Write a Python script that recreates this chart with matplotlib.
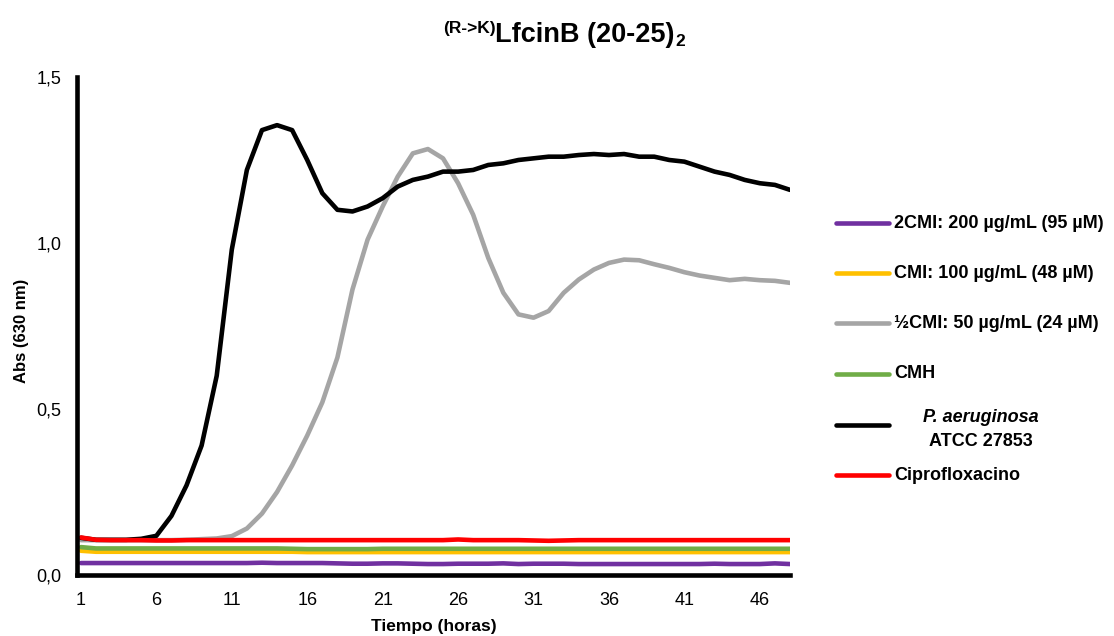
import matplotlib

matplotlib.use("Agg")

import matplotlib.pyplot as plt
from matplotlib.lines import Line2D

W, H = 1114, 636

hours = list(range(1, 49))
x_tick_hours = hours[::5]
y_ticks = [0.0, 0.5, 1.0, 1.5]
y_tick_labels = ["0,0", "0,5", "1,0", "1,5"]

mic2 = [0.036, 0.036, 0.036, 0.036, 0.036, 0.036, 0.036, 0.036, 0.036, 0.036,
        0.036, 0.036, 0.037, 0.036, 0.036, 0.036, 0.036, 0.035, 0.034, 0.034,
        0.035, 0.035, 0.034, 0.033, 0.033, 0.034, 0.034, 0.034, 0.035, 0.033,
        0.034, 0.034, 0.034, 0.033, 0.033, 0.033, 0.033, 0.033, 0.033, 0.033,
        0.033, 0.033, 0.034, 0.033, 0.033, 0.033, 0.035, 0.033]
mic1 = [0.073, 0.070, 0.070, 0.070, 0.070, 0.070, 0.070, 0.070, 0.070, 0.070,
        0.070, 0.070, 0.070, 0.070, 0.070, 0.069, 0.069, 0.069, 0.069, 0.069,
        0.069, 0.069, 0.069, 0.069, 0.069, 0.069, 0.069, 0.069, 0.069, 0.069,
        0.069, 0.069, 0.069, 0.069, 0.069, 0.069, 0.069, 0.069, 0.069, 0.069,
        0.069, 0.069, 0.069, 0.069, 0.069, 0.069, 0.069, 0.069]
mic_half = [0.105, 0.105, 0.105, 0.105, 0.105, 0.105, 0.105, 0.106, 0.108, 0.110,
            0.117, 0.140, 0.185, 0.250, 0.330, 0.420, 0.520, 0.655, 0.860, 1.010,
            1.110, 1.200, 1.270, 1.283, 1.255, 1.180, 1.085, 0.955, 0.850, 0.785,
            0.775, 0.795, 0.850, 0.890, 0.920, 0.940, 0.950, 0.948, 0.936, 0.925,
            0.912, 0.902, 0.895, 0.888, 0.892, 0.888, 0.886, 0.880]
cmh = [0.084, 0.080, 0.080, 0.080, 0.080, 0.080, 0.080, 0.080, 0.080, 0.080,
       0.080, 0.080, 0.080, 0.080, 0.079, 0.078, 0.078, 0.078, 0.078, 0.078,
       0.079, 0.079, 0.079, 0.079, 0.079, 0.079, 0.079, 0.079, 0.079, 0.079,
       0.079, 0.079, 0.079, 0.079, 0.079, 0.079, 0.079, 0.079, 0.079, 0.079,
       0.079, 0.079, 0.079, 0.079, 0.079, 0.079, 0.079, 0.079]
pa = [0.112, 0.106, 0.106, 0.106, 0.109, 0.118, 0.178, 0.270, 0.390, 0.600,
      0.980, 1.220, 1.340, 1.355, 1.340, 1.250, 1.150, 1.100, 1.095, 1.110,
      1.135, 1.170, 1.190, 1.200, 1.215, 1.215, 1.220, 1.235, 1.240, 1.250,
      1.255, 1.260, 1.260, 1.265, 1.268, 1.265, 1.268, 1.260, 1.260, 1.250,
      1.245, 1.230, 1.215, 1.205, 1.190, 1.180, 1.175, 1.160]
cipro = [0.113, 0.106, 0.105, 0.105, 0.105, 0.104, 0.104, 0.105, 0.105, 0.105,
         0.105, 0.105, 0.105, 0.105, 0.105, 0.105, 0.105, 0.105, 0.105, 0.105,
         0.105, 0.105, 0.105, 0.105, 0.105, 0.107, 0.105, 0.105, 0.105, 0.105,
         0.104, 0.103, 0.104, 0.105, 0.105, 0.105, 0.105, 0.105, 0.105, 0.105,
         0.105, 0.105, 0.105, 0.105, 0.105, 0.105, 0.105, 0.105]

series = [
    ("2CMI: 200 µg/mL (95 µM)", mic2, "#7030A0"),
    ("CMI: 100 µg/mL (48 µM)", mic1, "#FFC000"),
    ("½CMI: 50 µg/mL (24 µM)", mic_half, "#A5A5A5"),
    ("CMH", cmh, "#70AD47"),
    ("P. aeruginosa", pa, "#000000"),
    ("Ciprofloxacino", cipro, "#FF0000"),
]
legend_rows = [223, 273, 323, 374, 425, 475]

plt.rcParams["font.family"] = ["Liberation Sans", "DejaVu Sans"]

fig = plt.figure(figsize=(W / 100, H / 100), dpi=100)
ax = fig.add_axes([77 / W, 61 / H, (790 - 77) / W, (575 - 77) / H])

for label, values, color in series:
    ax.plot(hours, values, color=color, linewidth=3.3,
            solid_joinstyle="round", solid_capstyle="round")

ax.set_xlim(0.74, 48.0)
ax.set_ylim(0, 1.5)
ax.set_xticks(x_tick_hours)
ax.set_xticklabels([str(h) for h in x_tick_hours])
ax.set_yticks(y_ticks)
ax.set_yticklabels(y_tick_labels)
ax.tick_params(length=0, labelsize=13)
ax.tick_params(axis="x", pad=12)
ax.tick_params(axis="y", pad=11)
for side in ("top", "right"):
    ax.spines[side].set_visible(False)
for side in ("left", "bottom"):
    ax.spines[side].set_linewidth(3.3)
    ax.spines[side].set_color("black")

fig.text(22 / W, 1 - 331 / H, "Abs (630 nm)", rotation=90, ha="center",
         va="center", fontsize=12, fontweight="bold")
fig.text(434 / W, 1 - 627 / H, "Tiempo (horas)", ha="center", va="center",
         fontsize=12.5, fontweight="bold")

# title with super/subscript pieces
renderer = fig.canvas.get_renderer()
main = fig.text(585 / W, 1 - 42 / H, "LfcinB (20-25)", ha="center",
                va="baseline", fontsize=19.5, fontweight="bold")
box = main.get_window_extent(renderer)
fig.text(box.x0 / W, 1 - 33 / H, "(R->K)", ha="right", va="baseline",
         fontsize=12.5, fontweight="bold")
fig.text(box.x1 / W + 0.001, 1 - 46 / H, "2", ha="left", va="baseline",
         fontsize=12.5, fontweight="bold")

# legend drawn by hand to match the centred two-line entry
for (label, values, color), row in zip(series, legend_rows):
    y = 1 - row / H
    fig.add_artist(Line2D([836 / W, 889 / W], [y, y], color=color,
                          linewidth=3.3, solid_capstyle="round"))
    if label == "P. aeruginosa":
        fig.text(981 / W, 1 - 417 / H, label, ha="center", va="center",
                 fontsize=13, fontweight="bold", fontstyle="italic")
        fig.text(981 / W, 1 - 441 / H, "ATCC 27853", ha="center", va="center",
                 fontsize=13, fontweight="bold")
    else:
        fig.text(894 / W, y, label, ha="left", va="center",
                 fontsize=13, fontweight="bold")

fig.savefig("out.png", dpi=100)
plt.close(fig)
